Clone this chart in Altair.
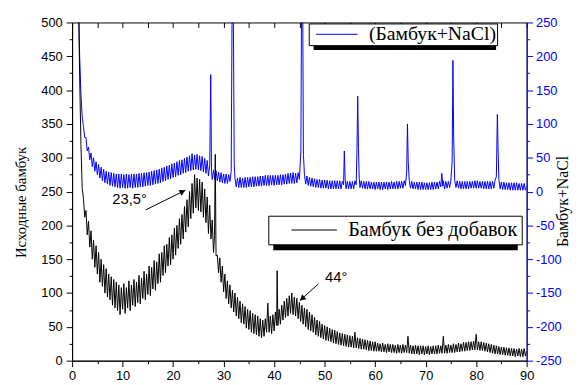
import altair as alt
import pandas as pd

# ---------------- data ----------------
x_ticks = list(range(0, 91, 5))
left_ticks = list(range(0, 501, 25))
right_ticks = list(range(-250, 251, 25))

# Исходные бамбук (left axis)
black_pts = [
    (1.25, 540), (1.5, 420), (1.75, 320), (2.0, 255), (2.25, 240), (2.5, 212), (2.75, 222), (3.0, 186),
    (3.25, 206), (3.5, 168), (3.75, 192), (4.0, 150), (4.25, 178), (4.5, 138), (4.75, 170), (5.0, 128),
    (5.25, 160), (5.5, 116), (5.75, 150), (6.0, 110), (6.25, 142), (6.5, 100), (6.75, 136), (7.0, 94),
    (7.25, 128), (7.5, 90), (7.75, 124), (8.0, 82), (8.25, 120), (8.5, 78), (8.75, 116), (9.0, 74),
    (9.25, 112), (9.5, 68), (9.75, 108), (10.0, 76), (10.25, 114), (10.5, 70), (10.75, 108), (11.0, 78),
    (11.25, 118), (11.5, 74), (11.75, 112), (12.0, 82), (12.25, 120), (12.5, 80), (12.75, 116), (13.0, 86),
    (13.25, 126), (13.5, 84), (13.75, 122), (14.0, 92), (14.25, 132), (14.5, 90), (14.75, 128), (15.0, 98),
    (15.25, 140), (15.5, 96), (15.75, 138), (16.0, 106), (16.25, 148), (16.5, 104), (16.75, 146),
    (17.0, 114), (17.25, 158), (17.5, 116), (17.75, 160), (18.0, 126), (18.25, 170), (18.5, 130),
    (18.75, 172), (19.0, 140), (19.25, 182), (19.5, 142), (19.75, 186), (20.0, 150), (20.25, 196),
    (20.5, 156), (20.75, 200), (21.0, 166), (21.25, 210), (21.5, 172), (21.75, 216), (22.0, 180),
    (22.25, 228), (22.5, 190), (22.75, 238), (23.0, 198), (23.25, 250), (23.5, 210), (23.75, 262),
    (24.0, 218), (24.25, 275), (24.5, 226), (24.75, 270), (25.0, 222), (25.25, 268), (25.5, 220),
    (25.75, 264), (26.0, 212), (26.25, 254), (26.5, 204), (26.75, 242), (27.0, 188), (27.25, 230),
    (27.5, 180), (27.75, 208), (28.0, 160), (28.2, 185), (28.35, 305), (28.5, 155), (28.75, 156),
    (29.0, 130), (29.25, 152), (29.5, 116), (29.75, 140), (30.0, 102), (30.25, 128), (30.5, 92),
    (30.75, 118), (31.0, 84), (31.25, 112), (31.5, 78), (31.75, 104), (32.0, 72), (32.25, 100),
    (32.5, 66), (32.75, 94), (33.0, 62), (33.25, 88), (33.5, 56), (33.75, 84), (34.0, 54), (34.25, 80),
    (34.5, 48), (34.75, 76), (35.0, 46), (35.25, 74), (35.5, 42), (35.75, 70), (36.0, 40), (36.25, 68),
    (36.5, 38), (36.75, 66), (37.0, 36), (37.25, 62), (37.5, 34), (37.75, 60), (38.0, 36), (38.25, 62),
    (38.5, 42), (38.75, 85), (39.0, 42), (39.25, 66), (39.5, 40), (39.75, 68), (40.0, 44), (40.25, 72),
    (40.5, 52), (40.6, 133), (40.75, 52), (41.0, 76), (41.25, 54), (41.5, 82), (41.75, 60), (42.0, 88),
    (42.25, 64), (42.5, 92), (42.75, 66), (43.0, 96), (43.25, 70), (43.5, 100), (43.75, 68), (44.0, 94),
    (44.25, 66), (44.5, 92), (44.75, 62), (45.0, 86), (45.25, 58), (45.5, 82), (45.75, 54), (46.0, 78),
    (46.25, 50), (46.5, 76), (46.75, 46), (47.0, 72), (47.25, 44), (47.5, 68), (47.75, 42), (48.0, 64),
    (48.25, 38), (48.5, 60), (48.75, 36), (49.0, 58), (49.25, 34), (49.5, 54), (49.75, 32), (50.0, 52),
    (50.25, 30), (50.5, 50), (50.75, 29), (51.0, 48), (51.25, 28), (51.5, 46), (51.75, 26), (52.0, 45),
    (52.25, 25), (52.5, 43), (52.75, 24), (53.0, 41), (53.25, 23), (53.5, 40), (53.75, 22), (54.0, 39),
    (54.25, 21), (54.5, 38), (54.75, 20), (55.0, 37), (55.25, 20), (55.5, 36), (55.75, 19), (56.0, 42),
    (56.25, 19), (56.5, 34), (56.75, 18), (57.0, 33), (57.25, 17), (57.5, 32), (57.75, 17), (58.0, 31),
    (58.25, 16), (58.5, 30), (58.75, 15), (59.0, 29), (59.25, 15), (59.5, 28), (59.75, 14), (60.0, 28),
    (60.25, 14), (60.5, 26), (60.75, 14), (61.0, 25), (61.25, 13), (61.5, 26), (61.75, 13), (62.0, 24),
    (62.25, 12), (62.5, 25), (62.75, 13), (63.0, 24), (63.25, 12), (63.5, 24), (63.75, 12), (64.0, 23),
    (64.25, 11), (64.5, 24), (64.75, 12), (65.0, 23), (65.25, 11), (65.5, 24), (65.75, 12), (66.0, 23),
    (66.25, 12), (66.5, 36), (66.75, 11), (67.0, 23), (67.25, 10), (67.5, 22), (67.75, 10), (68.0, 23),
    (68.25, 10), (68.5, 22), (68.75, 9), (69.0, 22), (69.25, 10), (69.5, 22), (69.75, 9), (70.0, 21),
    (70.25, 10), (70.5, 22), (70.75, 9), (71.0, 21), (71.25, 10), (71.5, 22), (71.75, 10), (72.0, 22),
    (72.25, 10), (72.5, 23), (72.75, 11), (73.0, 22), (73.25, 11), (73.5, 36), (73.75, 11), (74.0, 23),
    (74.25, 11), (74.5, 24), (74.75, 12), (75.0, 23), (75.25, 12), (75.5, 25), (75.75, 12), (76.0, 24),
    (76.25, 13), (76.5, 26), (76.75, 13), (77.0, 25), (77.25, 14), (77.5, 27), (77.75, 14), (78.0, 27),
    (78.25, 15), (78.5, 28), (78.75, 15), (79.0, 28), (79.25, 16), (79.5, 29), (79.75, 16), (80.0, 39),
    (80.25, 16), (80.5, 28), (80.75, 15), (81.0, 28), (81.25, 15), (81.5, 27), (81.75, 14), (82.0, 26),
    (82.25, 13), (82.5, 25), (82.75, 12), (83.0, 24), (83.25, 11), (83.5, 23), (83.75, 10), (84.0, 22),
    (84.25, 10), (84.5, 21), (84.75, 9), (85.0, 20), (85.25, 9), (85.5, 20), (85.75, 8), (86.0, 19),
    (86.25, 8), (86.5, 19), (86.75, 7), (87.0, 18), (87.25, 7), (87.5, 18), (87.75, 6), (88.0, 17),
    (88.25, 7), (88.5, 18), (88.75, 6), (89.0, 17), (89.25, 6), (89.5, 18), (89.75, 7), (90.0, 14),
]

# Бамбук+NaCl (right axis)
blue_pts = [
    (1.25, 300), (1.5, 200), (1.75, 145), (2.0, 110), (2.25, 96), (2.5, 80), (2.75, 80), (3.0, 60),
    (3.25, 66), (3.5, 47), (3.75, 57), (4.0, 37), (4.25, 50), (4.5, 30), (4.75, 44), (5.0, 25),
    (5.25, 40), (5.5, 20), (5.75, 36), (6.0, 16), (6.25, 33), (6.5, 13), (6.75, 30), (7.0, 11),
    (7.25, 29), (7.5, 9), (7.75, 28), (8.0, 8), (8.25, 27), (8.5, 7), (8.75, 26), (9.0, 6),
    (9.25, 26), (9.5, 5), (9.75, 26), (10.0, 6), (10.25, 25), (10.5, 5), (10.75, 26), (11.0, 5),
    (11.25, 25), (11.5, 6), (11.75, 26), (12.0, 5), (12.25, 26), (12.5, 6), (12.75, 26), (13.0, 6),
    (13.25, 27), (13.5, 7), (13.75, 27), (14.0, 7), (14.25, 28), (14.5, 8), (14.75, 28), (15.0, 9),
    (15.25, 29), (15.5, 9), (15.75, 30), (16.0, 10), (16.25, 31), (16.5, 11), (16.75, 32), (17.0, 12),
    (17.25, 33), (17.5, 13), (17.75, 35), (18.0, 15), (18.25, 36), (18.5, 16), (18.75, 38), (19.0, 18),
    (19.25, 39), (19.5, 19), (19.75, 41), (20.0, 21), (20.25, 42), (20.5, 22), (20.75, 44), (21.0, 24),
    (21.25, 46), (21.5, 25), (21.75, 47), (22.0, 27), (22.25, 49), (22.5, 28), (22.75, 51), (23.0, 30),
    (23.25, 53), (23.5, 31), (23.75, 56), (24.0, 32), (24.25, 54), (24.5, 33), (24.75, 55), (25.0, 32),
    (25.25, 53), (25.5, 31), (25.75, 52), (26.0, 29), (26.25, 49), (26.5, 27), (26.75, 46), (27.0, 23),
    (27.25, 38), (27.45, 173), (27.6, 30), (27.75, 18), (28.0, 32), (28.25, 18), (28.5, 31), (28.75, 16),
    (29.0, 29), (29.25, 14), (29.5, 28), (29.75, 13), (30.0, 26), (30.25, 12), (30.5, 26), (30.75, 12),
    (31.0, 25), (31.25, 15), (31.5, 30), (31.7, 300), (31.9, 300), (32.1, 40), (32.25, 20), (32.5, 7),
    (32.75, 20), (33.0, 6), (33.25, 21), (33.5, 6), (33.75, 20), (34.0, 6), (34.25, 21), (34.5, 6),
    (34.75, 21), (35.0, 7), (35.25, 21), (35.5, 7), (35.75, 22), (36.0, 7), (36.25, 22), (36.5, 8),
    (36.75, 22), (37.0, 8), (37.25, 23), (37.5, 8), (37.75, 23), (38.0, 9), (38.25, 24), (38.5, 9),
    (38.75, 24), (39.0, 9), (39.25, 24), (39.5, 10), (39.75, 24), (40.0, 9), (40.25, 24), (40.5, 10),
    (40.75, 24), (41.0, 10), (41.25, 25), (41.5, 10), (41.75, 25), (42.0, 11), (42.25, 26), (42.5, 11),
    (42.75, 27), (43.0, 12), (43.25, 27), (43.5, 12), (43.75, 28), (44.0, 12), (44.25, 27), (44.5, 13),
    (44.75, 28), (45.0, 18), (45.3, 60), (45.45, 300), (45.65, 300), (45.8, 55), (46.0, 25), (46.25, 11),
    (46.5, 23), (46.75, 9), (47.0, 21), (47.25, 8), (47.5, 20), (47.75, 7), (48.0, 19), (48.25, 6),
    (48.5, 18), (48.75, 6), (49.0, 18), (49.25, 5), (49.5, 17), (49.75, 5), (50.0, 17), (50.25, 5),
    (50.5, 17), (50.75, 4), (51.0, 16), (51.25, 4), (51.5, 16), (51.75, 4), (52.0, 16), (52.25, 4),
    (52.5, 16), (52.75, 4), (53.0, 16), (53.25, 4), (53.5, 15), (53.75, 10), (53.9, 60), (54.05, 20),
    (54.25, 4), (54.5, 15), (54.75, 4), (55.0, 15), (55.25, 4), (55.5, 15), (55.75, 4), (56.0, 16),
    (56.25, 10), (56.4, 60), (56.55, 141), (56.7, 65), (56.85, 20), (57.0, 6), (57.25, 16), (57.5, 5),
    (57.75, 15), (58.0, 4), (58.25, 15), (58.5, 4), (58.75, 15), (59.0, 4), (59.25, 14), (59.5, 4),
    (59.75, 14), (60.0, 3), (60.25, 14), (60.5, 4), (60.75, 14), (61.0, 3), (61.25, 14), (61.5, 3),
    (61.75, 14), (62.0, 4), (62.25, 14), (62.5, 3), (62.75, 14), (63.0, 4), (63.25, 15), (63.5, 4),
    (63.75, 14), (64.0, 4), (64.25, 15), (64.5, 4), (64.75, 15), (65.0, 5), (65.25, 15), (65.5, 5),
    (65.75, 16), (66.0, 9), (66.25, 30), (66.4, 100), (66.55, 45), (66.75, 17), (67.0, 5), (67.25, 15),
    (67.5, 4), (67.75, 14), (68.0, 4), (68.25, 14), (68.5, 3), (68.75, 14), (69.0, 3), (69.25, 14),
    (69.5, 3), (69.75, 13), (70.0, 3), (70.25, 13), (70.5, 3), (70.75, 13), (71.0, 3), (71.25, 14),
    (71.5, 3), (71.75, 14), (72.0, 4), (72.25, 14), (72.5, 4), (72.75, 15), (73.0, 7), (73.2, 27),
    (73.4, 8), (73.5, 16), (73.75, 4), (74.0, 15), (74.25, 5), (74.5, 15), (74.75, 6), (75.0, 17),
    (75.25, 45), (75.4, 194), (75.55, 80), (75.75, 17), (76.0, 6), (76.25, 16), (76.5, 5), (76.75, 15),
    (77.0, 4), (77.25, 15), (77.5, 4), (77.75, 15), (78.0, 4), (78.25, 15), (78.5, 4), (78.75, 15),
    (79.0, 5), (79.25, 15), (79.5, 5), (79.75, 16), (80.0, 5), (80.25, 16), (80.5, 5), (80.75, 15),
    (81.0, 5), (81.25, 15), (81.5, 4), (81.75, 15), (82.0, 4), (82.25, 15), (82.5, 4), (82.75, 15),
    (83.0, 4), (83.25, 15), (83.5, 5), (83.75, 17), (84.0, 22), (84.2, 114), (84.35, 60), (84.5, 18),
    (84.75, 4), (85.0, 14), (85.25, 3), (85.5, 14), (85.75, 3), (86.0, 13), (86.25, 3), (86.5, 13),
    (86.75, 2), (87.0, 13), (87.25, 2), (87.5, 13), (87.75, 2), (88.0, 13), (88.25, 2), (88.5, 12),
    (88.75, 2), (89.0, 12), (89.25, 2), (89.5, 12), (89.75, 2), (90.0, 8),
]

black_name = "Бамбук без добавок"
blue_name = "(Бамбук+NaCl)"

ann_text = ["23,5°", "44°"]
ann_tx = [11.4, 52.3]
ann_ty = [239, 124]
arrow_x1 = [14.6, 48.8]
arrow_y1 = [223, 113.7]
arrow_x2 = [22.45, 45.1]
arrow_y2 = [252, 88.9]
head_x = [21.9, 45.55]
head_y = [250, 91.8]
head_angle = [63.4, 228.2]

# ---------------- styling ----------------
SANS = "Liberation Sans"
SERIF = "Liberation Serif"
BLUE = "#0000ff"
W, H = 461, 343

df_black = pd.DataFrame({"x": [p[0] for p in black_pts], "y": [p[1] for p in black_pts], "s": black_name})
df_blue = pd.DataFrame({"x": [p[0] for p in blue_pts], "y": [p[1] for p in blue_pts], "s": blue_name})
df_txt = pd.DataFrame({"x": ann_tx, "y": ann_ty, "t": ann_text})
df_arrow = pd.DataFrame({"x": arrow_x1, "y": arrow_y1, "x2": arrow_x2, "y2": arrow_y2})
df_head = pd.DataFrame({"x": head_x, "y": head_y, "a": head_angle})

xscale = alt.Scale(domain=[0, 90], nice=False, zero=False)
lscale = alt.Scale(domain=[0, 500], nice=False, zero=False)
rscale = alt.Scale(domain=[-250, 250], nice=False, zero=False)

bottom_axis = alt.Axis(
    orient="bottom", values=x_ticks, title=None, grid=False,
    labelExpr="datum.value % 10 === 0 ? '' + datum.value : ''",
    tickSize={"condition": {"test": "datum.value % 10 === 0", "value": 6}, "value": 3},
    domainColor="black", tickColor="black", labelColor="black",
    labelFont=SANS, labelFontSize=13, labelPadding=3, labelFlush=False, labelOverlap=False,
)
top_axis = alt.Axis(
    orient="top", values=x_ticks, title=None, grid=False, labels=False, domain=False,
    tickSize=5, offset=-5, tickColor="black",
)
left_axis = alt.Axis(
    orient="left", values=left_ticks, grid=False,
    title="Исходные бамбук", titleFont=SERIF, titleFontSize=15, titleFontWeight="normal",
    titleColor="black", titleAngle=270, titleX=-52, titleY=182, titleAlign="center",
    titleBaseline="middle",
    labelExpr="datum.value % 50 === 0 ? '' + datum.value : ''",
    tickSize={"condition": {"test": "datum.value % 50 === 0", "value": 6}, "value": 3},
    domainColor="black", tickColor="black", labelColor="black",
    labelFont=SANS, labelFontSize=13, labelPadding=4, labelFlush=False, labelOverlap=False,
)
right_axis = alt.Axis(
    orient="right", values=right_ticks, grid=False,
    title="Бамбук+NaCl", titleFont=SERIF, titleFontSize=16, titleFontWeight="normal",
    titleColor="black", titleAngle=270, titleX=36, titleY=181, titleAlign="center",
    titleBaseline="middle",
    labelExpr="datum.value % 50 === 0 ? '' + datum.value : ''",
    tickSize={"condition": {"test": "datum.value % 50 === 0", "value": 6}, "value": 3},
    domainColor=BLUE, tickColor=BLUE, labelColor=BLUE,
    labelFont=SANS, labelFontSize=13, labelPadding=3, labelFlush=False, labelOverlap=False,
)

# legend shadows (decoration)
shadow_blue = alt.Chart(pd.DataFrame({"k": [0]})).mark_rect(color="black").encode(
    x=alt.value(245), x2=alt.value(430), y=alt.value(7), y2=alt.value(28)
)
shadow_black = alt.Chart(pd.DataFrame({"k": [0]})).mark_rect(color="black").encode(
    x=alt.value(204), x2=alt.value(452), y=alt.value(201), y2=alt.value(231)
)

blue_line = alt.Chart(df_blue).mark_line(strokeWidth=1, clip=True).encode(
    x=alt.X("x:Q", scale=xscale, axis=top_axis),
    y=alt.Y("y:Q", scale=rscale, axis=right_axis),
    color=alt.Color(
        "s:N",
        scale=alt.Scale(domain=[blue_name], range=[BLUE]),
        legend=alt.Legend(
            title=None, orient="none", legendX=240, legendY=1,
            symbolType="stroke", symbolSize=1764, symbolStrokeWidth=1,
            symbolOffset=6, labelOffset=11, clipHeight=20,
            labelFont=SERIF, labelFontSize=20, labelColor="black", labelLimit=400,
            fillColor="white", strokeColor="black", padding=1,
        ),
    ),
)

black_line = alt.Chart(df_black).mark_line(strokeWidth=1, clip=True).encode(
    x=alt.X("x:Q", scale=xscale, axis=bottom_axis),
    y=alt.Y("y:Q", scale=lscale, axis=left_axis),
    color=alt.Color(
        "s:N",
        scale=alt.Scale(domain=[black_name], range=["black"]),
        legend=alt.Legend(
            title=None, orient="none", legendX=199, legendY=196,
            symbolType="stroke", symbolSize=2116, symbolStrokeWidth=1,
            symbolOffset=19, labelOffset=11, clipHeight=21,
            labelFont=SERIF, labelFontSize=20.5, labelColor="black", labelLimit=400,
            fillColor="white", strokeColor="black", padding=4,
        ),
    ),
)

arrows = alt.Chart(df_arrow).mark_rule(color="black", strokeWidth=1).encode(
    x=alt.X("x:Q", scale=xscale, axis=bottom_axis),
    y=alt.Y("y:Q", scale=lscale, axis=left_axis),
    x2="x2:Q", y2="y2:Q",
)
heads = alt.Chart(df_head).mark_point(shape="triangle-up", filled=True, size=45, color="black", opacity=1).encode(
    x=alt.X("x:Q", scale=xscale, axis=bottom_axis),
    y=alt.Y("y:Q", scale=lscale, axis=left_axis),
    angle=alt.Angle("a:Q", scale=None),
)
texts = alt.Chart(df_txt).mark_text(font=SANS, fontSize=15, color="black", align="center", baseline="middle").encode(
    x=alt.X("x:Q", scale=xscale, axis=bottom_axis),
    y=alt.Y("y:Q", scale=lscale, axis=left_axis),
    text="t:N",
)

black_group = alt.layer(black_line, arrows, heads, texts)

chart = (
    alt.layer(shadow_blue, shadow_black, blue_line, black_group)
    .resolve_scale(y="independent", color="independent")
    .resolve_axis(x="independent", y="independent")
    .resolve_legend(color="independent")
    .properties(
        width=W, height=H,
        autosize=alt.AutoSizeParams(type="none"),
        padding={"left": 65, "top": 12, "right": 47, "bottom": 22},
        background="white",
    )
    .configure_view(stroke="black", strokeWidth=1)
)

chart.save("out.html", embed_options={"renderer": "svg", "actions": False})
